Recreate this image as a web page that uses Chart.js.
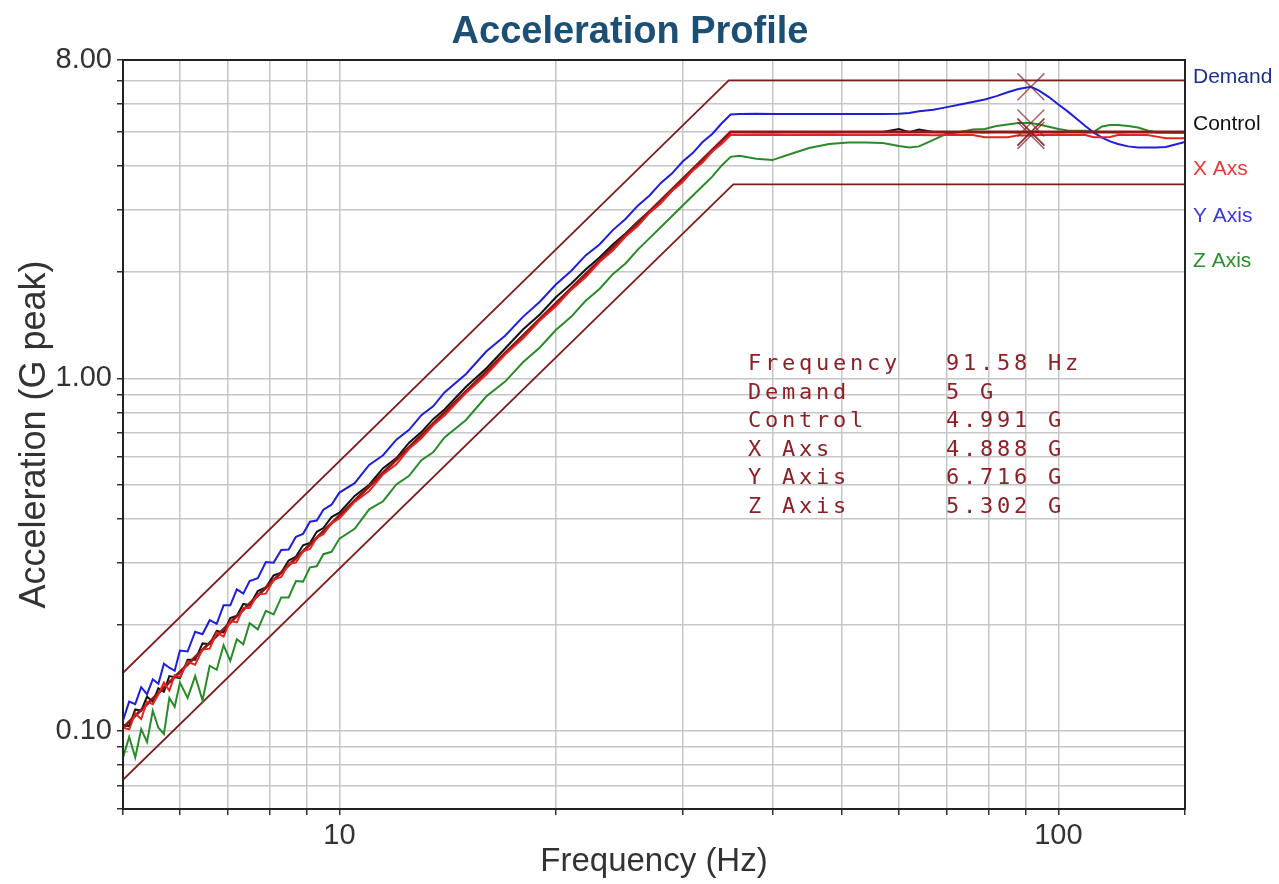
<!DOCTYPE html>
<html lang="en">
<head>
<meta charset="UTF-8">
<title>Acceleration Profile</title>
<script src="https://cdn.jsdelivr.net/npm/chart.js@4.4.1/dist/chart.umd.min.js"></script>
<style>
    body { margin: 0; background: #fff; }
    #wrap { width: 1279px; height: 884px; }
</style>
</head>
<body>
<div id="wrap"><canvas id="profile" width="1279" height="884"></canvas></div>
<script>
// measured trace frequencies (Hz)
const freqs = [
    5.0, 5.1, 5.2, 5.3, 5.4, 5.5, 5.6, 5.7, 5.8, 5.9, 6.0,
    6.15, 6.3, 6.45, 6.6, 6.75, 6.9, 7.05, 7.2, 7.35, 7.5,
    7.7, 7.9, 8.1, 8.3, 8.5, 8.7, 8.9, 9.1, 9.3, 9.5, 9.75, 10.0,
    10.5, 11, 11.5, 12, 12.5, 13, 13.5, 14,
    15, 16, 17, 18, 19, 20, 21, 22, 23, 24, 25, 26, 27, 28, 29, 30, 31, 32, 33, 34, 35,
    36, 38, 40, 42, 45, 48, 51, 54, 57, 60, 62, 64, 67, 70, 73, 76, 79, 82, 85, 88,
    91.58, 94, 97, 100, 103, 106, 109, 112, 115, 118, 121, 125, 129, 133, 137, 141, 145, 150
];

// Y Axis (blue)
const yAxisG = [
    0.107, 0.121, 0.119, 0.133, 0.127, 0.140, 0.136, 0.155, 0.151, 0.148, 0.169,
    0.168, 0.191, 0.188, 0.206, 0.201, 0.227, 0.227, 0.252, 0.245, 0.266,
    0.271, 0.301, 0.300, 0.326, 0.327, 0.355, 0.362, 0.392, 0.395, 0.424, 0.438, 0.474,
    0.504, 0.568, 0.605, 0.670, 0.714, 0.786, 0.833, 0.912,
    1.029, 1.191, 1.321, 1.494, 1.650, 1.845, 2.016, 2.232, 2.397, 2.633, 2.832, 3.090, 3.303, 3.584, 3.810, 4.114, 4.354, 4.681, 4.934, 5.285, 5.600,
    5.62, 5.63, 5.62, 5.62, 5.62, 5.62, 5.62, 5.62, 5.62, 5.63, 5.66, 5.72, 5.78, 5.88, 5.98, 6.08, 6.18, 6.32, 6.48, 6.62,
    6.716, 6.55, 6.28, 5.98, 5.72, 5.45, 5.20, 4.98, 4.82, 4.70, 4.62, 4.55, 4.52, 4.52, 4.52, 4.53, 4.60, 4.68
];

// Control (black)
const controlG = [
    0.104, 0.103, 0.115, 0.114, 0.125, 0.121, 0.132, 0.129, 0.143, 0.142, 0.141,
    0.159, 0.159, 0.177, 0.176, 0.192, 0.190, 0.209, 0.212, 0.229, 0.227,
    0.249, 0.255, 0.276, 0.281, 0.304, 0.312, 0.336, 0.341, 0.367, 0.376, 0.404, 0.416,
    0.464, 0.499, 0.556, 0.594, 0.657, 0.704, 0.766, 0.816,
    0.946, 1.066, 1.215, 1.375, 1.518, 1.698, 1.854, 2.035, 2.202, 2.398, 2.577, 2.787, 2.976, 3.200, 3.398, 3.674, 3.883, 4.180, 4.400, 4.718, 5.000,
    5.00, 5.00, 4.99, 5.00, 5.00, 4.99, 5.00, 5.00, 5.00, 5.10, 4.99, 5.08, 5.00, 4.99, 5.00, 5.00, 4.99, 5.00, 5.00, 4.99,
    4.991, 5.00, 5.00, 4.99, 5.00, 5.00, 4.99, 5.00, 5.00, 5.00, 4.99, 5.00, 5.00, 5.00, 5.00, 5.00, 5.00, 5.00
];

// X Axs (red)
const xAxsG = [
    0.102, 0.101, 0.112, 0.108, 0.121, 0.119, 0.127, 0.137, 0.130, 0.144, 0.142,
    0.157, 0.154, 0.170, 0.171, 0.190, 0.185, 0.205, 0.203, 0.223, 0.223,
    0.244, 0.245, 0.268, 0.273, 0.298, 0.300, 0.323, 0.328, 0.353, 0.361, 0.388, 0.400,
    0.446, 0.479, 0.534, 0.570, 0.631, 0.676, 0.736, 0.784,
    0.909, 1.024, 1.168, 1.296, 1.459, 1.600, 1.782, 1.936, 2.138, 2.304, 2.525, 2.704, 2.946, 3.136, 3.398, 3.600, 3.883, 4.096, 4.400, 4.624, 4.900,
    4.90, 4.91, 4.90, 4.90, 4.91, 4.90, 4.90, 4.90, 4.90, 4.90, 4.90, 4.90, 4.89, 4.90, 4.90, 4.90, 4.83, 4.83, 4.83, 4.89,
    4.888, 4.90, 4.90, 4.90, 4.90, 4.90, 4.90, 4.83, 4.83, 4.84, 4.90, 4.90, 4.90, 4.90, 4.85, 4.80, 4.80, 4.80
];

// Z Axis (green)
const zAxisG = [
    0.084, 0.096, 0.084, 0.101, 0.093, 0.114, 0.102, 0.098, 0.124, 0.117, 0.137,
    0.124, 0.143, 0.122, 0.153, 0.149, 0.175, 0.158, 0.182, 0.176, 0.202,
    0.194, 0.219, 0.214, 0.239, 0.239, 0.266, 0.265, 0.291, 0.293, 0.317, 0.322, 0.351,
    0.374, 0.425, 0.448, 0.500, 0.529, 0.586, 0.617, 0.680,
    0.762, 0.888, 0.979, 1.111, 1.223, 1.371, 1.494, 1.659, 1.792, 1.975, 2.117, 2.318, 2.499, 2.688, 2.883, 3.086, 3.295, 3.511, 3.734, 4.011, 4.250,
    4.28, 4.20, 4.16, 4.30, 4.50, 4.62, 4.67, 4.67, 4.65, 4.56, 4.52, 4.55, 4.75, 4.95, 5.00, 5.08, 5.10, 5.20, 5.25, 5.30,
    5.302, 5.25, 5.17, 5.10, 5.05, 5.04, 5.04, 5.00, 5.18, 5.23, 5.23, 5.20, 5.15, 5.05, 4.98, 4.98, 4.97, 4.97
];

// demand profile and +/- abort limits (break points)
const demandFreqs = [5, 35, 150];
const demandG = [0.102, 5.0, 5.0];
const upperFreqs = [5, 34.8, 150];
const upperG = [0.146, 7.0, 7.0];
const lowerFreqs = [5, 35.3, 150];
const lowerG = [0.0726, 3.55, 3.55];

// short yellow trace at the left edge
const yellowFreqs = [5.0, 5.0, 5.08];
const yellowG = [0.0638, 0.0872, 0.0872];

// cursor
const cursorFreq = 91.58;
const cursorG = [5.0, 4.991, 4.888, 6.716, 5.302];
const readoutNames = ['Frequency', 'Demand', 'Control', 'X Axs', 'Y Axis', 'Z Axis'];
const readoutValues = ['91.58 Hz', '5 G', '4.991 G', '4.888 G', '6.716 G', '5.302 G'];

// legend on the right
const legendNames = ['Demand', 'Control', 'X Axs', 'Y Axis', 'Z Axis'];
const legendColors = ['#1f2f8a', '#111111', '#e03a3a', '#3b3bd4', '#2e8b2e'];

// axes
const xGridValues = [5, 6, 7, 8, 9, 10, 20, 30, 40, 50, 60, 70, 80, 90, 100, 150];
const yGridValues = [0.06, 0.07, 0.08, 0.09, 0.1, 0.2, 0.3, 0.4, 0.5, 0.6, 0.7, 0.8, 0.9, 1, 2, 3, 4, 5, 6, 7, 8];
const xTickLabels = { 10: '10', 100: '100' };
const yTickLabels = { 0.1: '0.10', 1: '1.00', 8: '8.00' };

function pts(fs, vs) {
    return fs.map((f, i) => ({ x: f, y: vs[i] }));
}

function spacedText(ctx, str, x, y, pitch) {
    for (let i = 0; i < str.length; i++) {
        ctx.fillText(str[i], x + i * pitch, y);
    }
}

const overlay = {
    id: 'overlay',
    afterDraw(chart) {
        const ctx = chart.ctx;
        const a = chart.chartArea;
        ctx.save();
        // frame
        ctx.strokeStyle = '#222';
        ctx.lineWidth = 2;
        ctx.strokeRect(a.left, a.top, a.right - a.left, a.bottom - a.top);

        // title
        ctx.fillStyle = '#1d4e73';
        ctx.font = 'bold 38px "Liberation Sans", Arial, sans-serif';
        ctx.textAlign = 'center';
        ctx.textBaseline = 'alphabetic';
        ctx.fillText('Acceleration Profile', 630, 43);

        // legend
        ctx.textAlign = 'left';
        ctx.font = '21px "Liberation Sans", Arial, sans-serif';
        const legendY = [83, 130, 175, 222, 267];
        legendNames.forEach((n, i) => {
            ctx.fillStyle = legendColors[i];
            ctx.fillText(n, 1193, legendY[i]);
        });

        // cursor readout
        ctx.fillStyle = '#8a2128';
        ctx.font = '22px "DejaVu Sans Mono", monospace';
        readoutNames.forEach((n, i) => {
            const y = 370 + i * 28.6;
            spacedText(ctx, n, 748, y, 17);
            spacedText(ctx, readoutValues[i], 946, y, 17);
        });
        ctx.restore();
    }
};

const gridOpts = { color: '#c6c6c6', lineWidth: 1.5, tickColor: '#333', tickLength: 6, tickWidth: 1.5 };
const tickFont = '"Liberation Sans", Arial, sans-serif';

new Chart(document.getElementById('profile'), {
    type: 'line',
    data: {
        datasets: [
            { data: pts(yellowFreqs, yellowG), borderColor: '#c9c24a', borderWidth: 1.5, pointRadius: 0, order: 7 },
            { data: pts(upperFreqs, upperG), borderColor: '#7a1e1e', borderWidth: 1.8, pointRadius: 0, order: 6 },
            { data: pts(lowerFreqs, lowerG), borderColor: '#7a1e1e', borderWidth: 1.8, pointRadius: 0, order: 6 },
            { label: 'Z Axis', data: pts(freqs, zAxisG), borderColor: '#2a8a2a', borderWidth: 2, pointRadius: 0, order: 5 },
            { label: 'Y Axis', data: pts(freqs, yAxisG), borderColor: '#1f1fd6', borderWidth: 2, pointRadius: 0, order: 4 },
            { label: 'Control', data: pts(freqs, controlG), borderColor: '#111', borderWidth: 2, pointRadius: 0, order: 3 },
            { label: 'Demand', data: pts(demandFreqs, demandG), borderColor: '#8b1a1a', borderWidth: 3, pointRadius: 0, order: 2 },
            { label: 'X Axs', data: pts(freqs, xAxsG), borderColor: '#e8231f', borderWidth: 2, pointRadius: 0, order: 1 },
            {
                data: cursorG.map(v => ({ x: cursorFreq, y: v })),
                showLine: false, pointStyle: 'crossRot', pointRadius: 19,
                pointBorderColor: 'rgba(125, 35, 35, 0.7)', pointBorderWidth: 1.5, order: 0
            }
        ]
    },
    options: {
        responsive: false,
        animation: false,
        layout: { padding: { top: 60, right: 94, left: 0, bottom: 0 } },
        plugins: { legend: { display: false }, tooltip: { enabled: false } },
        scales: {
            x: {
                type: 'logarithmic', min: 5, max: 150,
                afterBuildTicks: s => { s.ticks = xGridValues.map(v => ({ value: v })); },
                afterFit: s => { s.height = 75; },
                grid: gridOpts,
                border: { color: '#222', width: 2 },
                ticks: {
                    autoSkip: false, maxRotation: 0, padding: 4, color: '#333',
                    font: { family: tickFont, size: 29 },
                    callback: v => xTickLabels[v] || ''
                },
                title: {
                    display: true, text: 'Frequency (Hz)', color: '#333',
                    font: { family: '"Liberation Sans", Arial, sans-serif', size: 33 },
                    padding: { top: 0, bottom: 2 }
                }
            },
            y: {
                type: 'logarithmic', min: 0.06, max: 8,
                afterBuildTicks: s => { s.ticks = yGridValues.map(v => ({ value: v })); },
                afterFit: s => { s.width = 123; },
                grid: gridOpts,
                border: { color: '#222', width: 2 },
                ticks: {
                    autoSkip: false, padding: 5, color: '#333',
                    font: { family: tickFont, size: 29 },
                    callback: v => yTickLabels[v] || ''
                },
                title: {
                    display: true, text: 'Acceleration (G peak)', color: '#333',
                    font: { family: '"Liberation Sans", Arial, sans-serif', size: 36 },
                    padding: { top: 13, bottom: 0 }
                }
            }
        }
    },
    plugins: [overlay]
});
</script>
</body>
</html>
